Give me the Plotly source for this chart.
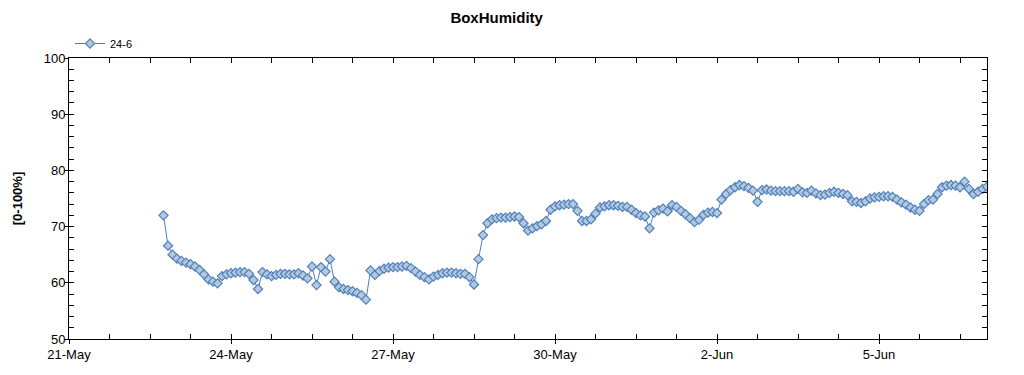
import pandas as pd
import plotly.graph_objects as go

series_name = "24-6"
start_time = "2023-05-22 18:00"
step = "2h"
humidity = [
    72.0, 66.6, 65.0, 64.3, 63.9, 63.6, 63.3, 62.9, 62.3, 61.5,
    60.6, 60.2, 59.9, 61.2, 61.5, 61.7, 61.8, 61.9, 61.9, 61.6,
    60.5, 58.9, 61.9, 61.5, 61.2, 61.4, 61.6, 61.6, 61.5, 61.5,
    61.7, 61.3, 60.8, 62.9, 59.6, 62.8, 62.0, 64.2, 60.2, 59.2,
    58.9, 58.7, 58.5, 58.2, 57.8, 57.0, 62.2, 61.4, 62.1, 62.5,
    62.7, 62.8, 62.8, 62.9, 63.0, 62.6, 62.0, 61.4, 61.0, 60.6,
    61.1, 61.4, 61.7, 61.8, 61.8, 61.7, 61.6, 61.6, 61.0, 59.7,
    64.2, 68.5, 70.6, 71.3, 71.5, 71.6, 71.6, 71.7, 71.8, 71.7,
    70.6, 69.3, 69.7, 70.1, 70.4, 71.0, 73.0, 73.6, 73.8, 73.9,
    74.0, 74.0, 72.8, 71.0, 71.0, 71.3, 72.3, 73.4, 73.6, 73.8,
    73.8, 73.7, 73.5, 73.5, 73.0, 72.4, 72.0, 71.8, 69.7, 72.5,
    72.9, 73.2, 72.7, 73.8, 73.5, 72.8, 72.2, 71.5, 70.8, 71.2,
    72.1, 72.5, 72.6, 72.4, 74.8, 75.8, 76.5, 77.0, 77.4, 77.2,
    76.9, 76.4, 74.4, 76.5, 76.6, 76.4, 76.3, 76.3, 76.3, 76.3,
    76.2, 76.7, 76.1, 76.0, 76.4, 75.9, 75.6, 75.7, 76.0, 76.2,
    76.0, 75.8, 75.6, 74.5, 74.4, 74.2, 74.5, 75.0, 75.2, 75.3,
    75.4, 75.4, 75.3, 74.8, 74.3, 73.9, 73.4, 73.0, 72.8, 74.0,
    74.7, 74.8, 75.8, 77.0, 77.3, 77.4, 77.3, 77.0, 78.0, 76.7,
    75.8, 76.2, 76.7, 77.1,
]
x_range = ["2023-05-21 00:00", "2023-06-07 00:00"]
y_range = [50, 100]

times = pd.date_range(start=start_time, periods=len(humidity), freq=step)

BLUE = "#4f81bd"
FILL = "#b4c8de"
FONT = "Liberation Sans, Arial, sans-serif"

fig = go.Figure()
fig.add_trace(go.Scatter(
    x=times, y=humidity, name=series_name, mode="lines+markers",
    line=dict(color=BLUE, width=1),
    marker=dict(symbol="diamond", size=7, color=FILL,
                line=dict(color=BLUE, width=1.2)),
))
# helper trace for the outer half of the major ticks
fig.add_trace(go.Scatter(x=[times[0]], y=[humidity[0]], xaxis="x2", yaxis="y2",
                         mode="markers", marker=dict(opacity=0), showlegend=False,
                         hoverinfo="skip"))

DAY = 86400000
fig.update_layout(
    width=1024, height=375,
    margin=dict(l=69, r=37, t=58, b=36),
    paper_bgcolor="white", plot_bgcolor="white",
    font=dict(family=FONT, size=13, color="black"),
    title=dict(text="<b>BoxHumidity</b>", x=0.485, xref="container", xanchor="center",
               y=1 - 18 / 375, yref="container", yanchor="middle",
               font=dict(size=15, family=FONT, color="black")),
    showlegend=True,
    legend=dict(x=1 / 918, y=1.0, xref="paper", yref="paper", xanchor="left", yanchor="bottom",
                orientation="h", font=dict(size=11, family=FONT, color="black"),
                bgcolor="rgba(0,0,0,0)", itemwidth=30),
    xaxis=dict(type="date", range=x_range, showgrid=False, zeroline=False,
               showline=True, linecolor="black", linewidth=1, mirror="allticks",
               ticks="inside", ticklen=5, tickcolor="black", automargin=False,
               tick0="2023-05-21", dtick=3 * DAY, tickformat="%-d-%b",
               tickfont=dict(size=13, color="black"), ticklabelstandoff=3,
               minor=dict(ticks="inside", ticklen=5, tickcolor="black",
                          tick0="2023-05-21", dtick=int(0.75 * DAY), showgrid=False)),
    yaxis=dict(range=y_range, showgrid=False, zeroline=False, automargin=False,
               showline=True, linecolor="black", linewidth=1, mirror="allticks",
               ticks="inside", ticklen=5, tickcolor="black", dtick=10,
               tickfont=dict(size=13, color="black"),
               title=dict(text="<b>[0-100%]</b>", font=dict(size=13, color="black"), standoff=18),
               minor=dict(ticks="inside", ticklen=5, tickcolor="black", dtick=2, showgrid=False)),
    xaxis2=dict(type="date", range=x_range, overlaying="x", side="bottom", showgrid=False,
                zeroline=False, showline=False, ticks="outside", ticklen=4, tickcolor="black",
                tick0="2023-05-21", dtick=3 * DAY, showticklabels=False),
    yaxis2=dict(range=y_range, overlaying="y", side="left", showgrid=False, zeroline=False,
                showline=False, ticks="outside", ticklen=4, tickcolor="black", dtick=10,
                showticklabels=False),
)

fig.write_html("out.html", config={"displayModeBar": False},
               post_script="document.body.style.margin='0px';")
